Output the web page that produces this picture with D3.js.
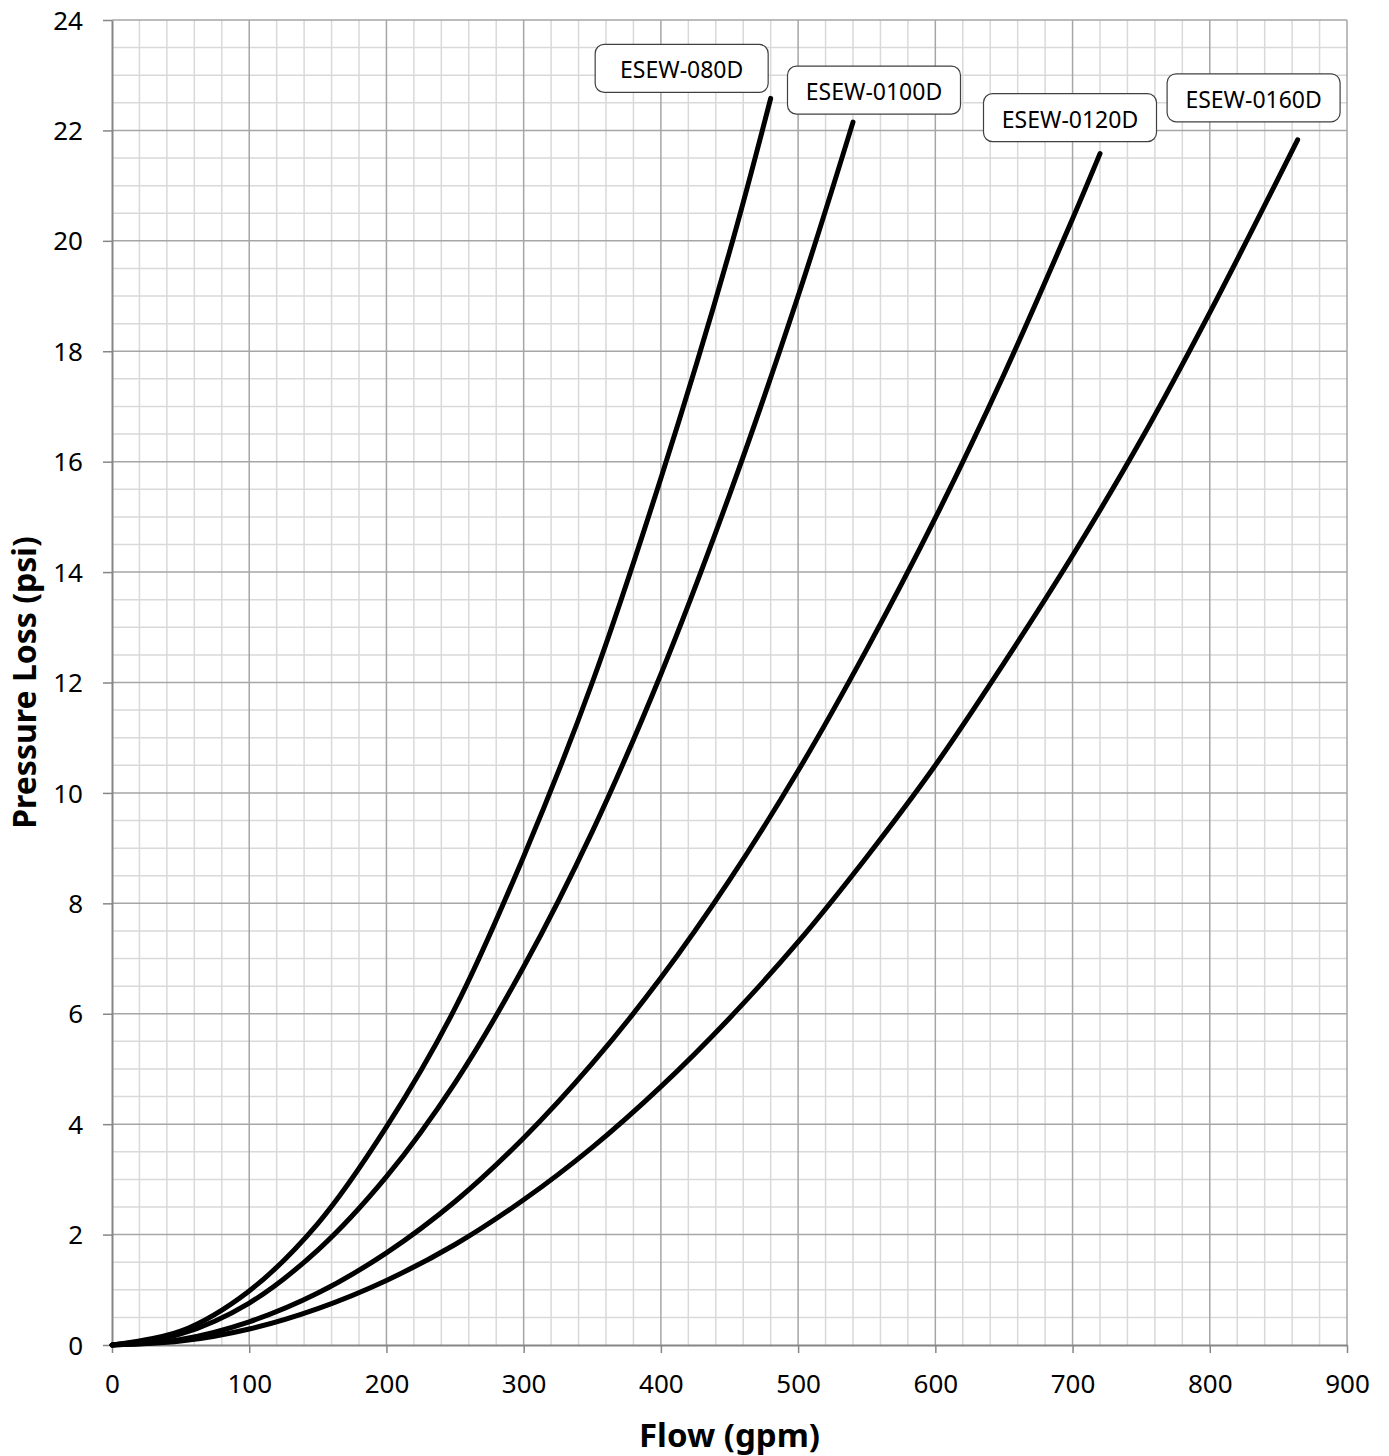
<!DOCTYPE html>
<html>
<head>
<meta charset="utf-8">
<script src="https://cdn.jsdelivr.net/npm/d3@7"></script>
<style>
  body { margin: 0; background: #fff; }
  svg { font-family: "Noto Sans", "Open Sans", sans-serif; }
</style>
</head>
<body>
<script>
// series: [flow gpm, pressure loss psi]
const names = ["ESEW-080D", "ESEW-0100D", "ESEW-0120D", "ESEW-0160D"];

const esew080 = [[0,0],[50,0.25],[100,0.98],[150,2.2],[200,3.95],[250,6.1],[300,8.85],[350,12.0],[400,15.7],[450,19.8],[480,22.58]];
const esew0100 = [[0,0],[50,0.2],[100,0.76],[150,1.72],[200,3.05],[250,4.75],[300,6.85],[350,9.3],[400,12.15],[450,15.4],[500,19.0],[540,22.15]];
const esew0120 = [[0,0],[50,0.1],[100,0.42],[150,0.94],[200,1.67],[250,2.6],[300,3.75],[350,5.1],[400,6.65],[450,8.42],[500,10.4],[550,12.6],[600,14.98],[650,17.58],[700,20.4],[720,21.58]];
const esew0160 = [[0,0],[50,0.07],[100,0.29],[150,0.66],[200,1.17],[250,1.82],[300,2.63],[350,3.58],[400,4.68],[450,5.92],[500,7.3],[550,8.84],[600,10.5],[650,12.35],[700,14.3],[750,16.4],[800,18.7],[864,21.83]];

const seriesData = [esew080, esew0100, esew0120, esew0160];

const xTicks = [0, 100, 200, 300, 400, 500, 600, 700, 800, 900];
const yTicks = [0, 2, 4, 6, 8, 10, 12, 14, 16, 18, 20, 22, 24];

// label box offsets from the end of each curve (pixels)
const labelOffsets = [[-89, -30], [21, -32], [-30, -36], [-44, -42]];

const width = 1389;
const height = 1456;
const margin = { top: 20, right: 42, bottom: 111, left: 112 };

const svg = d3.select("body")
  .append("svg")
  .attr("width", width)
  .attr("height", height);

const x = d3.scaleLinear()
  .domain([0, 900])
  .range([margin.left, width - margin.right]);

const y = d3.scaleLinear()
  .domain([0, 24])
  .range([height - margin.bottom, margin.top]);

// minor grid
const minorX = d3.range(0, 901, 20).filter(d => d % 100 !== 0);
const minorY = d3.range(0, 24.01, 0.5).filter(d => d % 2 !== 0);

svg.append("g")
  .selectAll("line")
  .data(minorX)
  .join("line")
  .attr("x1", d => x(d)).attr("x2", d => x(d))
  .attr("y1", y(0)).attr("y2", y(24))
  .attr("stroke", "#d9d9d9").attr("stroke-width", 1.5);

svg.append("g")
  .selectAll("line")
  .data(minorY)
  .join("line")
  .attr("y1", d => y(d)).attr("y2", d => y(d))
  .attr("x1", x(0)).attr("x2", x(900))
  .attr("stroke", "#d9d9d9").attr("stroke-width", 1.5);

// major grid
svg.append("g")
  .selectAll("line")
  .data(xTicks.slice(1))
  .join("line")
  .attr("x1", d => x(d)).attr("x2", d => x(d))
  .attr("y1", y(0)).attr("y2", y(24))
  .attr("stroke", "#a6a6a6").attr("stroke-width", 1.5);

svg.append("g")
  .selectAll("line")
  .data(yTicks.slice(1))
  .join("line")
  .attr("y1", d => y(d)).attr("y2", d => y(d))
  .attr("x1", x(0)).attr("x2", x(900))
  .attr("stroke", "#a6a6a6").attr("stroke-width", 1.5);

// axes
const xAxis = svg.append("g")
  .attr("transform", `translate(0,${y(0)})`)
  .call(d3.axisBottom(x).tickValues(xTicks).tickSize(8).tickSizeOuter(0).tickPadding(22));

const yAxis = svg.append("g")
  .attr("transform", `translate(${x(0)},0)`)
  .call(d3.axisLeft(y).tickValues(yTicks).tickSize(9).tickSizeOuter(0).tickPadding(20));

[xAxis, yAxis].forEach(ax => {
  ax.select(".domain").attr("stroke", "#868686").attr("stroke-width", 2);
  ax.selectAll(".tick line").attr("stroke", "#868686").attr("stroke-width", 1.5);
  ax.selectAll(".tick text")
    .attr("fill", "#000")
    .style("font-size", "26px")
    .style("font-family", "'Noto Sans', 'Open Sans', sans-serif");
});
yAxis.selectAll(".tick text").attr("dy", "0.35em");

// curves
const line = d3.line()
  .x(d => x(d[0]))
  .y(d => y(d[1]))
  .curve(d3.curveCatmullRom);

svg.append("g")
  .selectAll("path")
  .data(seriesData)
  .join("path")
  .attr("d", d => line(d))
  .attr("fill", "none")
  .attr("stroke", "#000")
  .attr("stroke-width", 5)
  .attr("stroke-linecap", "round");

// labels
const boxW = 173, boxH = 48;
const labels = svg.append("g")
  .selectAll("g")
  .data(names)
  .join("g")
  .attr("transform", (d, i) => {
    const last = seriesData[i][seriesData[i].length - 1];
    const cx = x(last[0]) + labelOffsets[i][0];
    const cy = y(last[1]) + labelOffsets[i][1];
    return `translate(${cx},${cy})`;
  });

labels.append("rect")
  .attr("x", -boxW / 2).attr("y", -boxH / 2)
  .attr("width", boxW).attr("height", boxH)
  .attr("rx", 9).attr("ry", 9)
  .attr("fill", "#fff")
  .attr("stroke", "#404040")
  .attr("stroke-width", 1.2);

labels.append("text")
  .text(d => d)
  .attr("text-anchor", "middle")
  .attr("y", 2)
  .attr("dy", "0.35em")
  .style("font-size", "23px")
  .attr("fill", "#000");

// axis titles
svg.append("text")
  .text("Flow (gpm)")
  .attr("x", (x(0) + x(900)) / 2)
  .attr("y", 1447)
  .attr("text-anchor", "middle")
  .style("font-size", "33px")
  .style("font-weight", "bold");

svg.append("text")
  .text("Pressure Loss (psi)")
  .attr("transform", `translate(36,${(y(0) + y(24)) / 2}) rotate(-90)`)
  .attr("text-anchor", "middle")
  .style("font-size", "32px")
  .style("font-weight", "bold");
</script>
</body>
</html>
